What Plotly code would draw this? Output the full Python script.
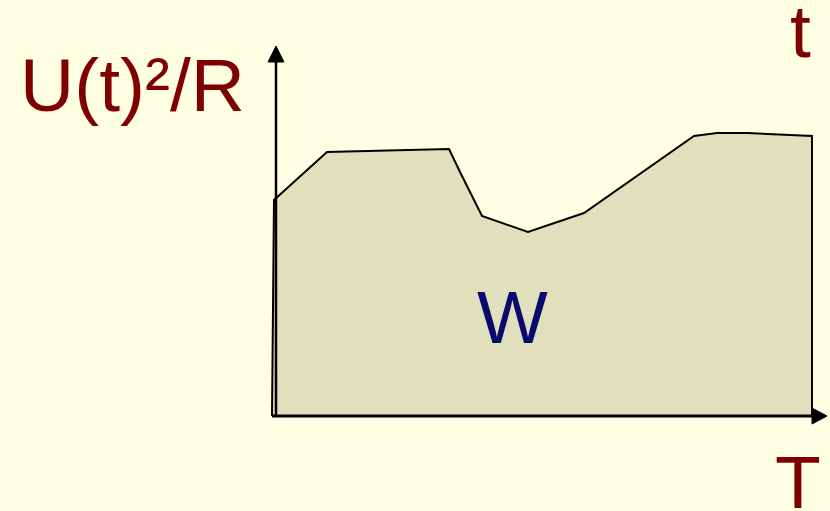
import plotly.graph_objects as go

# Power curve U(t)^2/R over time (origin at the axes' intersection)
t_vals = [-4, -2, 51, 173, 185, 206, 252, 308, 418, 441, 471, 536, 536]
p_vals = [0, 216, 264, 267, 242, 200, 184, 203, 280, 283, 283, 280, 0]

y_label = "U(t)²/R"
x_label = "T"
corner_label = "t"
area_label = "W"

W, H = 830, 511
OX, OY = 276, 416  # pixel position of axes origin
BG = "#FFFFE3"
FILL = "#E0E0BC"
RED = "#800000"
NAVY = "#0A0A6E"

fig = go.Figure()
fig.add_trace(go.Scatter(
    x=t_vals, y=p_vals, mode="lines", fill="toself",
    fillcolor=FILL, line=dict(color="black", width=2),
    hoverinfo="skip", showlegend=False,
))

x_range = [-OX, W - OX]
y_range = [OY - H, OY]

# axes with arrowheads
v_tip, v_base = 370, 354
h_tip, h_base = 551, 536
fig.add_shape(type="line", x0=0, y0=0, x1=0, y1=v_base, line=dict(color="black", width=2.5))
fig.add_shape(type="line", x0=-4, y0=0, x1=h_base, y1=0, line=dict(color="black", width=3))
fig.add_shape(type="path", path=f"M -8 {v_base} L 8 {v_base} L 0 {v_tip} Z",
              fillcolor="black", line=dict(color="black", width=1))
fig.add_shape(type="path", path=f"M {h_base} -8 L {h_base} 8 L {h_tip} 0 Z",
              fillcolor="black", line=dict(color="black", width=1))

def px(x):
    return x / W

def py(y):
    return 1 - y / H

font = "Liberation Sans, Arial, sans-serif"
fig.add_annotation(text=y_label, x=px(18), y=py(85), xref="paper", yref="paper",
                   xanchor="left", yanchor="middle", showarrow=False,
                   font=dict(family=font, size=75, color=RED))
fig.add_annotation(text=corner_label, x=px(800), y=py(31), xref="paper", yref="paper",
                   xanchor="center", yanchor="middle", showarrow=False,
                   font=dict(family=font, size=75, color=RED))
fig.add_annotation(text=x_label, x=px(798), y=py(482), xref="paper", yref="paper",
                   xanchor="center", yanchor="middle", showarrow=False,
                   font=dict(family=font, size=75, color=RED))
fig.add_annotation(text=area_label, x=px(512), y=py(317), xref="paper", yref="paper",
                   xanchor="center", yanchor="middle", showarrow=False,
                   font=dict(family=font, size=75, color=NAVY))

fig.update_layout(
    width=W, height=H, margin=dict(l=0, r=0, t=0, b=0),
    paper_bgcolor=BG, plot_bgcolor=BG,
    xaxis=dict(range=x_range, visible=False, fixedrange=True),
    yaxis=dict(range=y_range, visible=False, fixedrange=True),
)
fig.write_html("out.html", config={"displayModeBar": False},
               post_script="document.body.style.margin='0';document.body.style.overflow='hidden';")
